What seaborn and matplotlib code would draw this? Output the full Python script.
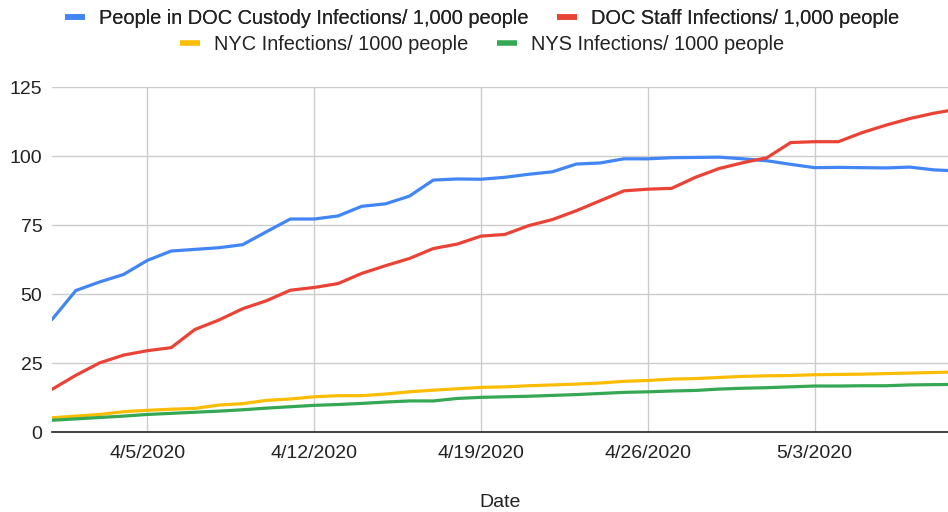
import pandas as pd
import seaborn as sns
import matplotlib.pyplot as plt
import matplotlib.dates as mdates
from matplotlib.lines import Line2D

# daily values, 4/1/2020 .. 5/9/2020
dates = pd.date_range('2020-04-01', '2020-05-09', freq='D')

doc_custody = [40.8, 51.3, 54.4, 57.1, 62.2, 65.6, 66.2, 66.8, 67.9, 72.6,
               77.2, 77.2, 78.3, 81.8, 82.7, 85.5, 91.3, 91.7, 91.6, 92.3,
               93.4, 94.3, 97.1, 97.5, 99.0, 99.0, 99.4, 99.5, 99.6, 99.0,
               98.3, 97.0, 95.8, 95.9, 95.8, 95.7, 96.0, 95.0, 94.6]
doc_staff = [15.5, 20.6, 25.1, 27.9, 29.5, 30.6, 37.2, 40.6, 44.7, 47.6,
             51.4, 52.4, 53.8, 57.5, 60.3, 62.9, 66.5, 68.1, 71.0, 71.6,
             74.8, 77.0, 80.2, 83.8, 87.4, 88.0, 88.3, 92.3, 95.5, 97.6,
             99.4, 104.9, 105.2, 105.2, 108.5, 111.2, 113.6, 115.5, 117.0]
nyc = [5.2, 5.8, 6.4, 7.4, 7.9, 8.3, 8.6, 9.8, 10.3, 11.5,
       12.0, 12.8, 13.2, 13.2, 13.8, 14.6, 15.2, 15.7, 16.2, 16.4,
       16.8, 17.1, 17.4, 17.8, 18.4, 18.7, 19.2, 19.4, 19.8, 20.2,
       20.4, 20.5, 20.8, 20.9, 21.0, 21.2, 21.4, 21.6, 21.8]
nys = [4.3, 4.8, 5.3, 5.8, 6.4, 6.8, 7.2, 7.6, 8.1, 8.7,
       9.2, 9.7, 10.0, 10.4, 10.9, 11.3, 11.3, 12.2, 12.6, 12.8,
       13.0, 13.3, 13.6, 14.0, 14.4, 14.6, 14.9, 15.1, 15.6, 15.9,
       16.1, 16.4, 16.7, 16.7, 16.8, 16.8, 17.1, 17.2, 17.3]

series = ['People in DOC Custody Infections/ 1,000 people',
          'DOC Staff Infections/ 1,000 people',
          'NYC Infections/ 1000 people',
          'NYS Infections/ 1000 people']
colors = ['#4285F4', '#EA4335', '#FBBC04', '#34A853']

df = pd.DataFrame({'Date': dates,
                   series[0]: doc_custody,
                   series[1]: doc_staff,
                   series[2]: nyc,
                   series[3]: nys})
long = df.melt(id_vars='Date', var_name='Series', value_name='Value')

sns.set_theme(style='white')
plt.rcParams['font.family'] = ['Liberation Sans', 'DejaVu Sans']

fig = plt.figure(figsize=(9.48, 5.12), dpi=100)
ax = fig.add_axes([0.0549, 0.156, 0.9451, 0.674])

sns.lineplot(data=long, x='Date', y='Value', hue='Series', hue_order=series,
             palette=dict(zip(series, colors)), linewidth=2.3, ax=ax,
             legend=False)

ax.set_ylim(0, 125)
ax.set_yticks([0, 25, 50, 75, 100, 125])
ax.set_xlim(dates[0], dates[0] + pd.Timedelta(days=37.6))
ax.xaxis.set_major_locator(mdates.WeekdayLocator(byweekday=mdates.SU))
ax.xaxis.set_major_formatter(mdates.DateFormatter('%-m/%-d/%Y'))

ax.grid(True, color='#cccccc', linewidth=1)
ax.set_axisbelow(True)
for s in ['top', 'right', 'left']:
    ax.spines[s].set_visible(False)
ax.spines['bottom'].set_color('#333333')
ax.spines['bottom'].set_linewidth(1.3)
ax.tick_params(axis='both', length=0, labelsize=14, colors='#222222')
ax.tick_params(axis='y', pad=7)
ax.tick_params(axis='x', pad=9)
ax.set_xlabel('Date', fontsize=14, color='#222222', labelpad=23)
ax.set_ylabel('')

def handle(c):
    return Line2D([], [], color=c, linewidth=4, solid_capstyle='butt')

legend_kw = dict(loc='center', ncol=2, frameon=False, fontsize=14.4,
                 handlelength=1.0, handletextpad=0.7, columnspacing=1.4,
                 labelcolor='#222222')
leg1 = fig.legend([handle(colors[0]), handle(colors[1])], series[:2],
                  bbox_to_anchor=(0.5085, 0.963), **legend_kw)
leg2 = fig.legend([handle(colors[2]), handle(colors[3])], series[2:],
                  bbox_to_anchor=(0.5085, 0.913), **legend_kw)
fig.add_artist(leg1)

fig.savefig('out.png', dpi=100)
